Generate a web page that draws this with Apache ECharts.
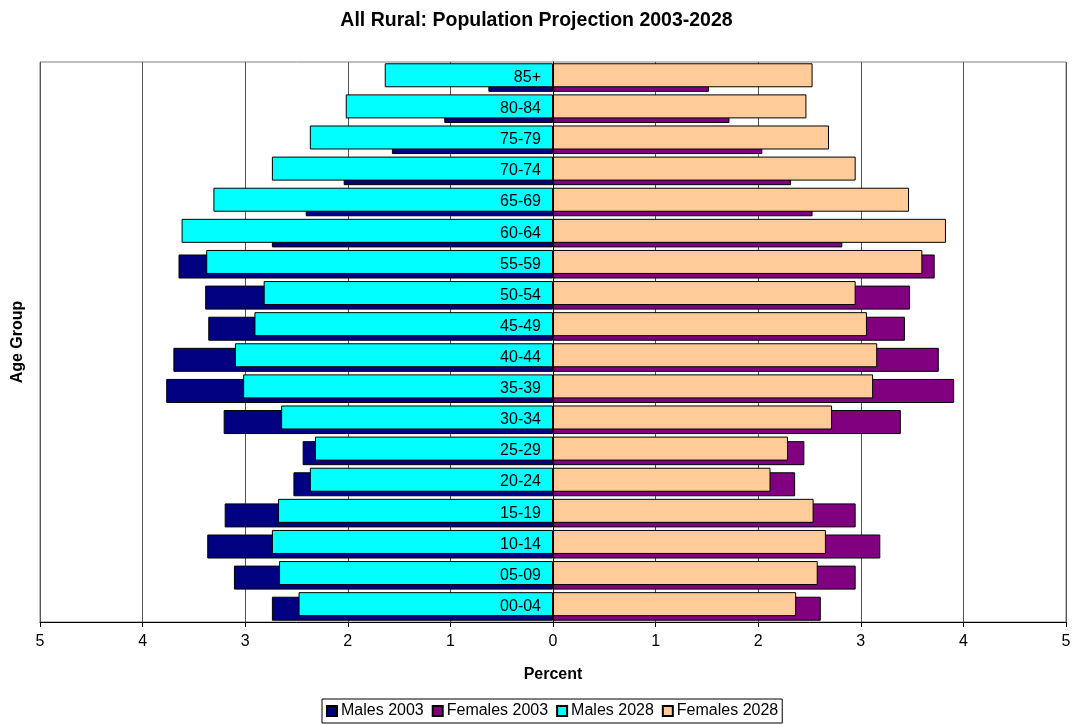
<!DOCTYPE html>
<html>
<head>
<meta charset="utf-8">
<script src="https://cdn.jsdelivr.net/npm/echarts@6/dist/echarts.min.js"></script>
<style>html,body{margin:0;padding:0;background:#fff;}#chart{width:1073px;height:724px;}</style>
</head>
<body>
<div id="chart"></div>
<script>
const categories = ['00-04','05-09','10-14','15-19','20-24','25-29','30-34','35-39','40-44','45-49','50-54','55-59','60-64','65-69','70-74','75-79','80-84','85+'];
const males2003   = [2.74, 3.11, 3.37, 3.20, 2.53, 2.44, 3.21, 3.77, 3.70, 3.36, 3.39, 3.65, 2.74, 2.41, 2.04, 1.57, 1.06, 0.63];
const females2003 = [2.61, 2.95, 3.19, 2.95, 2.36, 2.45, 3.39, 3.91, 3.76, 3.43, 3.48, 3.72, 2.82, 2.53, 2.32, 2.04, 1.72, 1.52];
const males2028   = [2.48, 2.67, 2.74, 2.68, 2.37, 2.32, 2.65, 3.02, 3.10, 2.91, 2.82, 3.38, 3.62, 3.31, 2.74, 2.37, 2.02, 1.64];
const females2028 = [2.37, 2.58, 2.66, 2.54, 2.12, 2.29, 2.72, 3.12, 3.16, 3.06, 2.95, 3.60, 3.83, 3.47, 2.95, 2.69, 2.47, 2.53];
const xTicks = {min: -5, max: 5, interval: 1};

const FONT = '"Liberation Sans", Arial, Helvetica, sans-serif';
const chart = echarts.init(document.getElementById('chart'), null, {renderer: 'canvas'});

const GRID_LEFT = 40, GRID_RIGHT = 7;
const gridWidth = 1073 - GRID_LEFT - GRID_RIGHT;

function bar(name, data, color, stack, z) {
  return {
    name: name, type: 'bar', stack: stack, data: data, z: z,
    barWidth: 24, barGap: '-81%',
    itemStyle: {color: color, borderColor: '#000', borderWidth: 1},
    emphasis: {disabled: true},
    animation: false
  };
}

chart.setOption({
  animation: false,
  textStyle: {fontFamily: FONT},
  title: {
    text: 'All Rural: Population Projection 2003-2028',
    left: 'center', top: 6,
    textStyle: {fontFamily: FONT, fontSize: 19.5, fontWeight: 'bold', color: '#000'}
  },
  legend: {
    data: ['Males 2003', 'Females 2003', 'Males 2028', 'Females 2028'],
    left: 322, top: 699, icon: 'rect',
    borderColor: '#000', borderWidth: 1, padding: [4, 4],
    itemWidth: 10, itemHeight: 10, itemGap: 8,
    textStyle: {fontFamily: FONT, fontSize: 16, color: '#000', padding: [0, 0, 0, -1]}
  },
  graphic: [{
    type: 'text',
    rotation: Math.PI / 2,
    x: 18, y: 342,
    style: {text: 'Age Group', font: 'bold 16px ' + FONT, fill: '#000',
      textAlign: 'center', textVerticalAlign: 'middle'}
  }],
  grid: {
    left: GRID_LEFT, right: GRID_RIGHT, top: 62, bottom: 102,
    containLabel: false, outerBoundsMode: 'none',
    show: true, borderColor: '#808080', borderWidth: 1, backgroundColor: '#fff'
  },
  xAxis: {
    type: 'value', min: xTicks.min, max: xTicks.max, interval: xTicks.interval,
    name: 'Percent', nameLocation: 'middle', nameGap: 45,
    nameTextStyle: {fontFamily: FONT, fontSize: 16, fontWeight: 'bold', color: '#000'},
    axisLine: {show: true, onZero: false, lineStyle: {color: '#000', width: 1}},
    axisTick: {show: true, length: 5, lineStyle: {color: '#000'}},
    axisLabel: {fontFamily: FONT, fontSize: 16, color: '#000', margin: 12,
      formatter: v => String(Math.abs(v))},
    splitLine: {show: true, lineStyle: {color: '#555', width: 1}}
  },
  yAxis: {
    type: 'category', data: categories, z: 10,
    position: 'left', offset: -gridWidth / 2,
    axisLine: {show: true, onZero: false, lineStyle: {color: '#000', width: 1}},
    axisTick: {show: false},
    axisLabel: {fontFamily: FONT, fontSize: 16, color: '#000', margin: 12},
    splitLine: {show: false}
  },
  series: [
    bar('Males 2028', males2028.map(v => -v), '#00FFFF', 'y2028', 3),
    bar('Females 2028', females2028, '#FFCC99', 'y2028', 3),
    bar('Males 2003', males2003.map(v => -v), '#000080', 'y2003', 2),
    bar('Females 2003', females2003, '#800080', 'y2003', 2)
  ]
});
</script>
</body>
</html>
